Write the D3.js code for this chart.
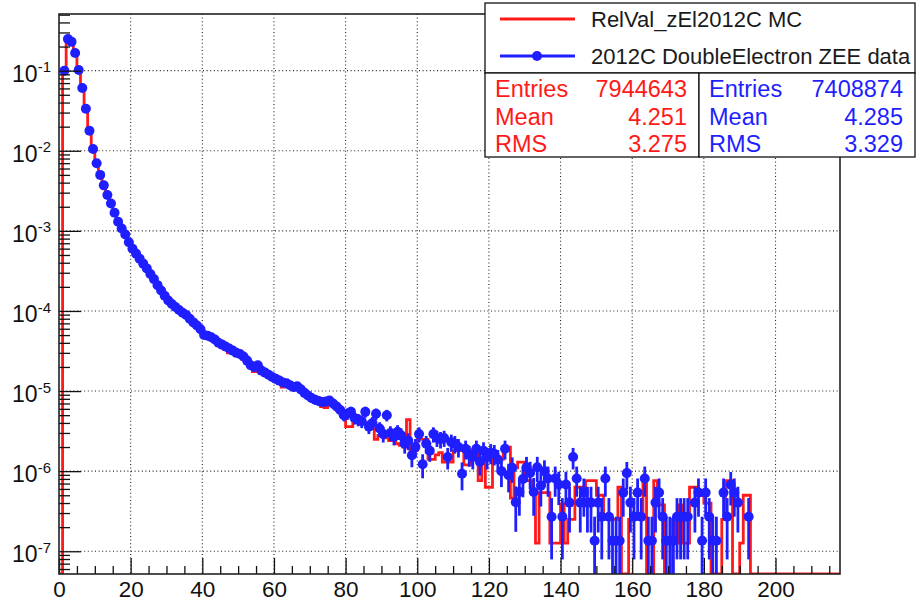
<!DOCTYPE html>
<html>
<head>
<meta charset="utf-8">
<script src="https://cdn.jsdelivr.net/npm/d3@7"></script>
<style>
  body { margin: 0; background: #fff; }
  svg { display: block; font-family: "Liberation Sans", Arial, sans-serif; }
</style>
</head>
<body>
<div class="chart"></div>
<script>
// normalised entries per unit bin, bins of width 1 starting at 0
const mcValues = [
  0, 0.098, 0.252, 0.226, 0.168, 0.100, 0.061, 0.034, 0.0176, 0.0106,
  7.0e-3, 5.0e-3, 3.7e-3, 2.8e-3, 2.2e-3, 1.68e-3, 1.31e-3, 1.06e-3, 8.9e-4, 7.2e-4,
  6.0e-4, 5.2e-4, 4.5e-4, 3.9e-4, 3.4e-4, 2.9e-4, 2.5e-4, 2.1e-4, 1.8e-4, 1.55e-4,
  1.34e-4, 1.20e-4, 1.10e-4, 1.00e-4, 9.2e-5, 8.4e-5, 7.8e-5, 7.1e-5, 6.4e-5, 5.8e-5,
  5.1e-5, 4.8e-5, 4.6e-5, 4.2e-5, 4.0e-5, 3.7e-5, 3.3e-5, 3.0e-5, 3.1e-5, 2.9e-5,
  2.8e-5, 2.5e-5, 2.3e-5, 2.0e-5, 1.75e-5, 1.95e-5, 1.7e-5, 1.6e-5, 1.52e-5, 1.45e-5,
  1.38e-5, 1.3e-5, 1.12e-5, 1.18e-5, 1.12e-5, 1.05e-5, 1.10e-5, 1.0e-5, 9.2e-6, 8.5e-6,
  8.0e-6, 7.6e-6, 7.2e-6, 6.4e-6, 6.2e-6, 7.0e-6, 6.6e-6, 6.0e-6, 5.4e-6, 5.0e-6,
  3.6e-6, 3.6e-6, 4.4e-6, 4.4e-6, 4.4e-6, 4.0e-6, 3.8e-6, 3.4e-6, 2.5e-6, 2.8e-6,
  3.0e-6, 2.6e-6, 2.4e-6, 2.7e-6, 2.2e-6, 2.1e-6, 2.0e-6, 4.4e-6, 1.8e-6, 1.8e-6,
  2.5e-6, 2.5e-6, 2.5e-6, 1.4e-6, 1.4e-6, 1.6e-6, 1.7e-6, 1.3e-6, 1.3e-6, 1.3e-6,
  1.8e-6, 1.8e-6, 1.8e-6, 1.2e-6, 1.2e-6, 1.8e-6, 1.8e-6, 7.6e-7, 1.5e-6, 6.3e-7,
  6.3e-7, 1.4e-6, 1.4e-6, 1.4e-6, 1.9e-6, 2.0e-6, 4.6e-7, 1.1e-6, 1.3e-6, 1.3e-6,
  7.6e-7, 7.6e-7, 5.4e-7, 1.26e-7, 5.4e-7, 5.4e-7, 5.4e-7, 1.26e-7, 1.26e-7, 1.26e-7,
  3.9e-7, 1.26e-7, 2.5e-7, 2.5e-7, 6.3e-7, 6.3e-7, 6.3e-7, 7.6e-7, 7.6e-7, 7.6e-7,
  5.0e-7, 5.0e-7, 2.5e-7, 2.5e-7, 2.5e-7, 2.5e-7, 6.3e-7, 0, 0, 2.5e-7,
  2.5e-7, 2.5e-7, 2.5e-7, 7.6e-7, 0, 0, 7.6e-7, 3.8e-7, 3.8e-7, 0,
  0, 2.5e-7, 1.26e-7, 3.8e-7, 1.26e-7, 1.26e-7, 6.3e-7, 6.3e-7, 5.0e-7, 5.0e-7,
  4.0e-7, 4.0e-7, 0, 0, 0, 2.5e-7, 7.6e-7, 7.6e-7, 0, 0,
  1.26e-7, 5.0e-7, 5.0e-7
];

const dataValues = [
  0, 0.100, 0.249, 0.229, 0.166, 0.102, 0.0607, 0.0335, 0.0178, 0.0105,
  7.0e-3, 5.0e-3, 3.7e-3, 2.8e-3, 2.2e-3, 1.68e-3, 1.30e-3, 1.07e-3, 9.0e-4, 7.2e-4,
  6.0e-4, 5.2e-4, 4.5e-4, 3.9e-4, 3.4e-4, 2.9e-4, 2.5e-4, 2.1e-4, 1.8e-4, 1.55e-4,
  1.35e-4, 1.22e-4, 1.12e-4, 1.03e-4, 9.5e-5, 8.9e-5, 8.0e-5, 7.2e-5, 6.6e-5, 5.9e-5,
  5.0e-5, 4.9e-5, 4.7e-5, 4.4e-5, 4.0e-5, 3.8e-5, 3.6e-5, 3.4e-5, 3.2e-5, 3.0e-5,
  2.9e-5, 2.7e-5, 2.4e-5, 2.1e-5, 2.0e-5, 2.1e-5, 1.8e-5, 1.7e-5, 1.6e-5, 1.5e-5,
  1.42e-5, 1.35e-5, 1.28e-5, 1.25e-5, 1.18e-5, 1.12e-5, 1.15e-5, 1.05e-5, 9.5e-6, 8.8e-6,
  8.2e-6, 7.8e-6, 7.5e-6, 7.3e-6, 7.4e-6, 7.6e-6, 7.0e-6, 6.4e-6, 5.8e-6, 5.0e-6,
  5.2e-6, 5.5e-6, 4.6e-6, 4.4e-6, 4.2e-6, 5.5e-6, 3.6e-6, 4.0e-6, 5.2e-6, 3.4e-6,
  2.9e-6, 5.0e-6, 3.0e-6, 2.7e-6, 3.1e-6, 2.8e-6, 2.2e-6, 2.4e-6, 1.58e-6, 2.0e-6,
  2.9e-6, 1.22e-6, 2.2e-6, 1.8e-6, 2.9e-6, 2.6e-6, 2.5e-6, 2.6e-6, 1.5e-6, 2.3e-6,
  2.2e-6, 2.0e-6, 9.3e-7, 1.9e-6, 1.6e-6, 1.5e-6, 1.9e-6, 1.3e-6, 1.8e-6, 1.5e-6,
  1.7e-6, 1.65e-6, 1.4e-6, 1.0e-6, 1.9e-6, 8.9e-7, 1.1e-6, 4.1e-7, 5.5e-7, 8.0e-7,
  1.12e-6, 9.5e-7, 5.5e-7, 1.12e-6, 6.6e-7, 1.0e-6, 8.1e-7, 2.7e-7, 8.1e-7, 6.8e-7,
  2.7e-7, 6.8e-7, 4.05e-7, 1.5e-6, 8.1e-7, 4.05e-7, 5.4e-7, 4.05e-7, 4.05e-7, 1.35e-7,
  4.05e-7, 2.7e-7, 8.1e-7, 2.7e-7, 1.35e-7, 1.35e-7, 1.35e-7, 5.4e-7, 9.45e-7, 4.05e-7,
  2.7e-7, 5.4e-7, 2.7e-7, 8.1e-7, 1.35e-7, 1.35e-7, 4.05e-7, 5.4e-7, 2.7e-7, 1.35e-7,
  1.35e-7, 1.35e-7, 2.7e-7, 2.7e-7, 2.7e-7, 2.7e-7, 0, 4.05e-7, 5.4e-7, 1.35e-7,
  5.4e-7, 2.7e-7, 1.35e-7, 1.35e-7, 0, 5.4e-7, 2.7e-7, 6.75e-7, 5.4e-7, 4.05e-7,
  0, 0, 2.7e-7
];

const seriesNames = ['RelVal_zEl2012C MC', '2012C DoubleElectron ZEE data'];
const statLabels = ['Entries', 'Mean', 'RMS'];
const mcStats = ['7944643', '4.251', '3.275'];
const dataStats = ['7408874', '4.285', '3.329'];
const dataEntries = 7408874;

const xMajorTicks = [0, 20, 40, 60, 80, 100, 120, 140, 160, 180, 200];
const yDecades = [-7, -6, -5, -4, -3, -2, -1];

const nBins = 218;
const W = 922, H = 605;
const plot = { left: 59, top: 14, right: 840, bottom: 574 };
const red = '#ff1a1a', blue = '#1e1eff';

const svg = d3.select('.chart')
  .append('svg')
    .attr('width', W)
    .attr('height', H);

svg.append('rect').attr('width', W).attr('height', H).attr('fill', '#fff');

const x = d3.scaleLinear()
  .domain([0, nBins])
  .range([plot.left, plot.right]);

const y = d3.scaleLog()
  .domain([5.2e-8, 0.51])
  .range([plot.bottom, plot.top]);

const yMin = y.domain()[0];

svg.append('defs').append('clipPath')
    .attr('id', 'clip')
  .append('rect')
    .attr('x', plot.left)
    .attr('y', plot.top)
    .attr('width', plot.right - plot.left)
    .attr('height', plot.bottom - plot.top);

// dotted grid
const grid = svg.append('g')
  .attr('stroke', '#222')
  .attr('stroke-width', 1.1)
  .attr('stroke-dasharray', '1,2.6');

grid.selectAll('.gx')
  .data(xMajorTicks.filter(d => d > 0))
  .enter()
  .append('line')
    .attr('x1', d => x(d)).attr('x2', d => x(d))
    .attr('y1', plot.top).attr('y2', plot.bottom);

grid.selectAll('.gy')
  .data(yDecades)
  .enter()
  .append('line')
    .attr('x1', plot.left).attr('x2', plot.right)
    .attr('y1', d => y(Math.pow(10, d))).attr('y2', d => y(Math.pow(10, d)));

// MC histogram, empty bins drop to the bottom of the frame
const mcPoints = d3.range(nBins).map(i => [i, mcValues[i] > 0 ? mcValues[i] : yMin]);
mcPoints.push([nBins, mcPoints[nBins - 1][1]]);

const stepLine = d3.line()
  .x(d => x(d[0]))
  .y(d => y(Math.max(d[1], yMin)))
  .curve(d3.curveStepAfter);

svg.append('path')
  .datum([[0, yMin]].concat(mcPoints))
  .attr('clip-path', 'url(#clip)')
  .attr('fill', 'none')
  .attr('stroke', red)
  .attr('stroke-width', 2.8)
  .attr('d', stepLine);

// data points with sqrt(N) errors
const pts = dataValues
  .map((v, i) => ({ bin: i, v: v, err: Math.sqrt(v / dataEntries) }))
  .filter(d => d.v > 0);

const dataG = svg.append('g').attr('clip-path', 'url(#clip)');

dataG.selectAll('line')
  .data(pts)
  .enter()
  .append('line')
    .attr('x1', d => x(d.bin + 0.5))
    .attr('x2', d => x(d.bin + 0.5))
    .attr('y1', d => y(Math.max(d.v - d.err, yMin)))
    .attr('y2', d => y(d.v + d.err))
    .attr('stroke', blue)
    .attr('stroke-width', 2.8);

dataG.selectAll('circle')
  .data(pts)
  .enter()
  .append('circle')
    .attr('cx', d => x(d.bin + 0.5))
    .attr('cy', d => y(d.v))
    .attr('r', 5)
    .attr('fill', blue);

// axes
const xMinor = d3.range(0, nBins, 5).filter(d => d % 20 !== 0);

const xAxis = svg.append('g')
  .attr('transform', `translate(0, ${plot.bottom})`)
  .call(d3.axisBottom(x).tickValues(xMajorTicks).tickSize(-16).tickPadding(7).tickFormat(d3.format('d')));

svg.append('g')
  .attr('transform', `translate(0, ${plot.bottom})`)
  .call(d3.axisBottom(x).tickValues(xMinor).tickSize(-8).tickFormat(''))
  .select('.domain').remove();

xAxis.select('.domain').remove();
xAxis.selectAll('text')
  .attr('font-size', 22.5)
  .attr('fill', '#111');

const yMinorVals = [];
for (let e = -8; e <= -1; e++) {
  for (let k = 2; k <= 9; k++) {
    const v = k * Math.pow(10, e);
    if (v >= yMin && v <= y.domain()[1]) yMinorVals.push(v);
  }
}

const yAxis = svg.append('g')
  .attr('transform', `translate(${plot.left}, 0)`)
  .call(d3.axisLeft(y).tickValues(yDecades.map(d => Math.pow(10, d))).tickSize(-22).tickPadding(8).tickFormat(''));

svg.append('g')
  .attr('transform', `translate(${plot.left}, 0)`)
  .call(d3.axisLeft(y).tickValues(yMinorVals).tickSize(-11).tickFormat(''))
  .select('.domain').remove();

yAxis.select('.domain').remove();

yAxis.selectAll('.tick text')
  .attr('font-size', 23)
  .attr('fill', '#111')
  .attr('dy', '0.45em')
  .each(function(d) {
    const t = d3.select(this);
    t.append('tspan').text('10');
    t.append('tspan')
      .attr('font-size', 15)
      .attr('dy', '-0.62em')
      .text(Math.round(Math.log10(d)));
  });

svg.selectAll('.tick line').attr('stroke', '#111').attr('stroke-width', 1.3);

// frame
svg.append('rect')
  .attr('x', plot.left)
  .attr('y', plot.top)
  .attr('width', plot.right - plot.left)
  .attr('height', plot.bottom - plot.top)
  .attr('fill', 'none')
  .attr('stroke', '#222')
  .attr('stroke-width', 1.6);

// legend
const leg = svg.append('g');
leg.append('rect')
  .attr('x', 485).attr('y', 3).attr('width', 430).attr('height', 70)
  .attr('fill', '#fff').attr('stroke', '#111').attr('stroke-width', 1.3);

const legRows = [
  { name: seriesNames[0], color: red, dot: false, y: 19 },
  { name: seriesNames[1], color: blue, dot: true, y: 56 }
];

legRows.forEach(r => {
  leg.append('line')
    .attr('x1', 500).attr('x2', 575).attr('y1', r.y).attr('y2', r.y)
    .attr('stroke', r.color).attr('stroke-width', 2.8);
  if (r.dot) {
    leg.append('circle').attr('cx', 537).attr('cy', r.y).attr('r', 5).attr('fill', r.color);
  }
  leg.append('text')
    .attr('x', 591).attr('y', r.y + 8)
    .attr('font-size', 22)
    .attr('fill', '#1a1a1a')
    .text(r.name);
});

// stat boxes
const boxes = [
  { x: 485, w: 214, color: red, vals: mcStats },
  { x: 699, w: 216, color: blue, vals: dataStats }
];

boxes.forEach(b => {
  const g = svg.append('g');
  g.append('rect')
    .attr('x', b.x).attr('y', 73).attr('width', b.w).attr('height', 84)
    .attr('fill', '#fff').attr('stroke', '#111').attr('stroke-width', 1.3);
  statLabels.forEach((lab, i) => {
    g.append('text')
      .attr('x', b.x + 10).attr('y', 97 + i * 27.5)
      .attr('font-size', 23.5).attr('fill', b.color)
      .text(lab);
    g.append('text')
      .attr('x', b.x + b.w - 12).attr('y', 97 + i * 27.5)
      .attr('font-size', 23.5).attr('fill', b.color)
      .attr('text-anchor', 'end')
      .text(b.vals[i]);
  });
});
</script>
</body>
</html>
